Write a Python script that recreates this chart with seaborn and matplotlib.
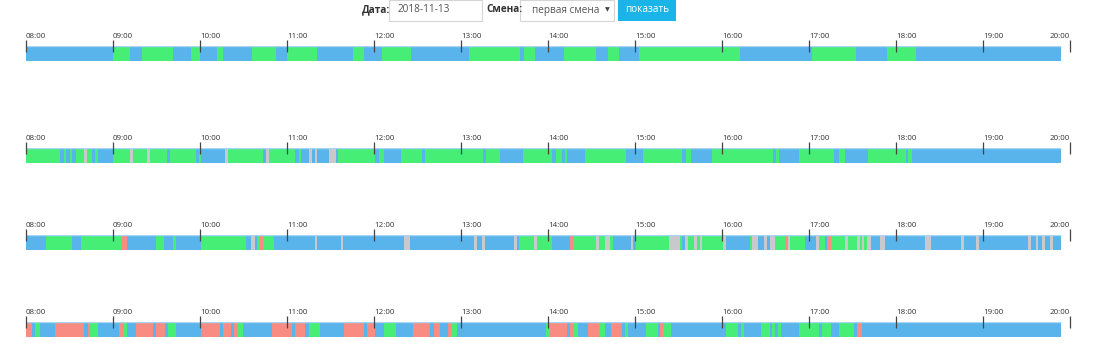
import matplotlib
matplotlib.use("Agg")
import matplotlib.pyplot as plt
import seaborn as sns
from matplotlib.patches import Rectangle

sns.set_theme(style="white")
plt.rcParams['font.family'] = ['Open Sans', 'DejaVu Sans']

# ---------------- data ----------------
hour_labels = ["08:00", "09:00", "10:00", "11:00", "12:00", "13:00", "14:00",
               "15:00", "16:00", "17:00", "18:00", "19:00", "20:00"]
shift_end = 11.9          # hours after 08:00 where the records stop

# segment starts (hours after 08:00) and states: B=blue, G=green, Z=grey, S=salmon
row1_start = [0, 1.0, 1.19, 1.33, 1.69, 1.90, 2.0, 2.2, 2.27, 2.60, 2.87, 3.0, 3.35,
              3.76, 3.89, 4.09, 4.43, 5.09, 5.68, 5.72, 5.85, 6.18, 6.55, 6.69, 6.82,
              7.05, 8.21, 9.04, 9.54, 9.90, 10.23]
row1_state = "B G B G B G B G B G B G B G B G B G B G B G B G B G B G B G B".split()

row2_start = [0, 0.396, 0.435, 0.463, 0.502, 0.530, 0.570, 0.672, 0.700, 0.759, 0.791,
              0.831, 1.005, 1.195, 1.226, 1.392, 1.420, 1.622, 1.657, 1.954, 1.986,
              2.017, 2.29, 2.322, 2.722, 2.761, 2.789, 3.093, 3.133, 3.157, 3.252,
              3.283, 3.323, 3.350, 3.481, 3.560, 3.584, 4.015, 4.055, 4.114, 4.312,
              4.549, 4.589, 5.249, 5.289, 5.447, 5.712, 6.051, 6.091, 6.158, 6.190,
              6.222, 6.420, 6.895, 7.093, 7.545, 7.584, 7.644, 7.885, 8.586, 8.618,
              8.653, 8.883, 9.287, 9.347, 9.418, 9.675, 10.111, 10.143, 10.182]
row2_state = ("G B G B G B G Z G B G B G Z G Z G B G B G B Z G B Z G B G B Z B Z B Z B "
              "G B G B G B G B G B G B G B G B G B G B G B G B G B G B G B G B").split()

row3_start = [0, 0.233, 0.530, 0.633, 1.088, 1.159, 1.495, 1.590, 1.689, 1.721, 2.017,
              2.524, 2.591, 2.627, 2.658, 2.690, 2.722, 2.856, 3.323, 3.350, 3.616,
              3.647, 4.347, 4.419, 5.150, 5.182, 5.241, 5.277, 5.613, 5.641, 5.672,
              5.843, 5.874, 6.051, 6.250, 6.289, 6.554, 6.586, 6.653, 6.717, 6.752,
              6.950, 6.982, 7.014, 7.386, 7.517, 7.545, 7.576, 7.608, 7.675, 7.715,
              7.747, 7.774, 8.012, 8.051, 8.317, 8.349, 8.416, 8.479, 8.515, 8.547,
              8.606, 8.725, 8.756, 8.784, 8.950, 9.081, 9.113, 9.180, 9.212, 9.251,
              9.418, 9.449, 9.556, 9.584, 9.608, 9.636, 9.667, 9.707, 9.814, 9.873,
              10.337, 10.408, 10.745, 10.776, 10.915, 10.950, 11.517, 11.549, 11.604,
              11.628, 11.675, 11.707, 11.774, 11.802]
row3_state = ("B G B G S B G B G B G B Z B G S G B Z B Z B Z B Z B Z B Z B G Z G B S G "
              "Z G Z G B Z B G Z G B Z G Z G Z G Z B G Z B Z B Z G S Z G B Z G B S G "
              "Z G Z G Z G Z B Z B Z B Z B Z B Z B Z B Z B Z B").split()

row4_start = [0, 0.067, 0.107, 0.158, 0.332, 0.669, 0.708, 0.732, 0.831, 1.068, 1.123,
              1.163, 1.262, 1.460, 1.495, 1.598, 1.630, 1.721, 2.017, 2.231, 2.263,
              2.362, 2.389, 2.421, 2.492, 2.824, 3.054, 3.093, 3.212, 3.252, 3.382,
              3.655, 3.884, 3.916, 4.015, 4.114, 4.248, 4.450, 4.648, 4.687, 4.755,
              4.854, 4.881, 4.953, 5.973, 6.012, 6.222, 6.257, 6.289, 6.349, 6.455,
              6.586, 6.653, 6.725, 6.851, 6.883, 6.923, 7.121, 7.259, 7.287, 7.319,
              7.418, 8.051, 8.182, 8.218, 8.250, 8.448, 8.547, 8.578, 8.614, 8.646,
              8.677, 8.883, 9.113, 9.152, 9.251, 9.347, 9.517, 9.549, 9.608]
row4_state = ("S B G B S B S G B S G B S B S B G B S B S B S G B S B S B G B S B S B G "
              "B S B S B S G B G S B S G B S G B S B G B G B S G B G B G B G B G B G "
              "B G B G B G B").split()

palette = {"B": "#5AB4EC", "G": "#46EE76", "Z": "#C9C9CD", "S": "#F98C82"}

form_date = "2018-11-13"
form_shift = "первая смена"

# ---------------- layout ----------------
W, H = 1106, 359
fig = plt.figure(figsize=(W / 100, H / 100), dpi=100)
fig.patch.set_facecolor("white")


def px_axes(x0, top, w, h):
    return fig.add_axes([x0 / W, 1 - (top + h) / H, w / W, h / H])


rows = [(row1_start, row1_state), (row2_start, row2_state),
        (row3_start, row3_state), (row4_start, row4_state)]
bar_tops = [46, 148, 235, 322]
bar_h = 15

for (starts, states), top in zip(rows, bar_tops):
    ends = starts[1:] + [shift_end]
    widths = [e - s for s, e in zip(starts, ends)]
    ax = px_axes(26, top, 1044, bar_h)
    ax.barh(0.5, widths, left=starts, height=1.0,
            color=[palette[s] for s in states], linewidth=0)
    ax.hlines([0.97], 0, shift_end, color="#A6D6F6", linewidth=1.0, zorder=2)
    ax.set_xlim(0, 12)
    ax.set_ylim(0, 1)
    ax.set_xticks(range(len(hour_labels)), hour_labels)
    ax.xaxis.tick_top()
    ax.tick_params(axis="x", direction="inout", length=8, width=0.9, color="#444444",
                   pad=0.6, labelsize=5.8, labelcolor="#333333")
    lbls = ax.get_xticklabels()
    for lbl in lbls:
        lbl.set_horizontalalignment("left")
    lbls[-1].set_horizontalalignment("right")
    ax.set_yticks([])
    for s in ax.spines.values():
        s.set_visible(False)
    ax.set_axisbelow(False)
    ax.patch.set_alpha(0)

# ---------------- header form ----------------
def fx(x):
    return x / W


def fy(y):
    return 1 - y / H


fs = 7.2
fig.text(fx(362), fy(10), "Дата:", fontsize=fs, fontweight="bold", color="#333333",
         va="center", ha="left")
fig.patches.append(Rectangle((fx(389), fy(20.5)), fx(93), 20.5 / H, transform=fig.transFigure,
                             facecolor="white", edgecolor="#D5D5D5", linewidth=0.8))
fig.text(fx(398), fy(10), form_date, fontsize=fs, color="#555555", va="center", ha="left")
fig.text(fx(486.5), fy(10), "Смена:", fontsize=fs, fontweight="bold", color="#333333",
         va="center", ha="left")
fig.patches.append(Rectangle((fx(520), fy(20.5)), fx(94), 20.5 / H, transform=fig.transFigure,
                             facecolor="white", edgecolor="#D5D5D5", linewidth=0.8))
fig.text(fx(531.5), fy(10), form_shift, fontsize=fs, color="#555555", va="center", ha="left")
fig.text(fx(607), fy(9.5), "▼", fontsize=4.5, color="#444444", va="center", ha="center",
         family=["DejaVu Sans"])
fig.patches.append(Rectangle((fx(618), fy(20.5)), fx(58), 20.5 / H, transform=fig.transFigure,
                             facecolor="#1BB4E8", edgecolor="none"))
fig.text(fx(647), fy(10), "показать", fontsize=fs, color="white", va="center", ha="center")

fig.savefig("out.png", dpi=100)
